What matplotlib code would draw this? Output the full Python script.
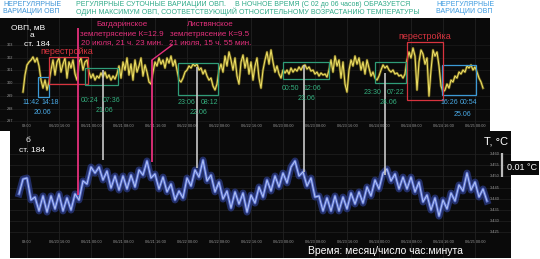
import numpy as np
import matplotlib
matplotlib.use("Agg")
import matplotlib.pyplot as plt
from matplotlib.patches import Rectangle

plt.rcParams['font.family'] = ['Liberation Sans', 'DejaVu Sans']

# time in hours since 06/20 00:00
ovp_start, ovp_step = 7.0, 0.5
ovp_mv = [
    299.30, 300.64, 301.43, 301.66, 301.82, 302.06, 301.66, 301.98, 301.35, 300.24, 299.61, 300.24,
    299.46, 300.09, 301.03, 301.82, 300.64, 301.66, 301.98, 300.87, 301.50, 301.98, 300.40, 301.66,
    301.19, 301.82, 300.72, 300.24, 301.66, 301.98, 301.03, 301.66, 301.82, 300.87, 300.40, 300.72,
    300.24, 300.56, 300.40, 300.80, 300.48, 300.87, 300.40, 300.64, 300.24, 300.56, 300.32, 300.72,
    301.35, 300.40, 301.66, 301.03, 301.98, 300.64, 301.50, 300.24, 301.82, 300.87, 301.35, 301.98,
    300.56, 301.43, 300.87, 300.09, 299.93, 300.87, 301.66, 301.35, 301.98, 301.50, 301.82, 301.19,
    301.98, 301.58, 302.13, 301.35, 301.82, 301.03, 300.24, 300.09, 300.40, 300.87, 301.03, 301.35,
    301.19, 301.50, 301.35, 301.50, 301.03, 301.19, 300.72, 301.03, 300.56, 300.24, 300.40, 299.77,
    299.46, 299.93, 301.03, 301.50, 300.87, 302.13, 301.35, 302.45, 301.82, 301.03, 301.98, 300.56,
    299.93, 301.66, 302.21, 301.19, 301.98, 300.72, 301.66, 300.24, 301.35, 301.98, 300.40, 299.61,
    301.03, 301.82, 302.45, 301.50, 302.61, 301.66, 300.87, 301.35, 300.72, 300.40, 301.03, 300.80,
    301.03, 300.72, 301.19, 300.87, 301.11, 300.95, 301.27, 301.03, 301.35, 301.43, 301.11, 301.27,
    300.95, 301.03, 300.72, 300.87, 300.56, 300.80, 300.64, 300.72, 300.48, 301.03, 301.82, 300.87,
    302.13, 301.35, 301.82, 300.40, 301.66, 299.93, 299.30, 301.03, 301.82, 301.35, 302.13, 301.50,
    301.98, 301.03, 301.66, 300.72, 301.82, 301.19, 300.56, 300.87, 300.40, 300.24, 300.56, 301.03,
    301.43, 301.19, 301.35, 301.03, 300.87, 301.03, 300.72, 300.80, 300.56, 300.64, 300.40, 300.72,
    301.82, 302.45, 301.98, 302.76, 302.13, 299.46, 301.66, 302.61, 302.29, 301.50, 301.98, 298.98,
    301.03, 302.61, 302.13, 302.45, 301.35, 299.77, 299.30, 299.46, 299.93, 299.61, 300.24, 300.09,
    300.56, 300.40, 300.87, 300.72, 301.03, 300.87, 301.35, 301.19, 301.43, 301.03, 301.27, 300.87,
    300.40, 300.09, 299.61,
]

temp_start, temp_step = 6.0, 1.0
temp_c = [
    3.4422, 3.4488, 3.4493, 3.4395, 3.4408, 3.4346, 3.4413, 3.4341, 3.4413, 3.4355, 3.4422, 3.4346,
    3.4404, 3.4350, 3.4422, 3.4395, 3.4480, 3.4466, 3.4542, 3.4515, 3.4542, 3.4484, 3.4524, 3.4448,
    3.4502, 3.4439, 3.4502, 3.4444, 3.4506, 3.4453, 3.4529, 3.4506, 3.4569, 3.4493, 3.4511, 3.4444,
    3.4497, 3.4431, 3.4466, 3.4395, 3.4435, 3.4404, 3.4493, 3.4457, 3.4529, 3.4497, 3.4573, 3.4480,
    3.4506, 3.4431, 3.4475, 3.4399, 3.4435, 3.4359, 3.4431, 3.4377, 3.4426, 3.4341, 3.4417, 3.4381,
    3.4453, 3.4408, 3.4484, 3.4435, 3.4502, 3.4453, 3.4515, 3.4471, 3.4542, 3.4569, 3.4502, 3.4520,
    3.4457, 3.4493, 3.4408, 3.4413, 3.4346, 3.4404, 3.4346, 3.4413, 3.4346, 3.4408, 3.4355, 3.4426,
    3.4377, 3.4431, 3.4381, 3.4453, 3.4413, 3.4484, 3.4444, 3.4515, 3.4533, 3.4480, 3.4511, 3.4444,
    3.4497, 3.4444, 3.4497, 3.4431, 3.4475, 3.4386, 3.4417, 3.4350, 3.4404, 3.4323, 3.4395, 3.4355,
    3.4426, 3.4390, 3.4462, 3.4435, 3.4515, 3.4439, 3.4475, 3.4408, 3.4444, 3.4390,
]

tick_hours = [8, 16, 24, 32, 40, 48, 56, 64, 72, 80, 88, 96, 104, 112, 120]
tick_labels = ["08:00", "06/20 16:00", "06/21 00:00", "06/21 08:00", "06/21 16:00",
               "06/22 00:00", "06/22 08:00", "06/22 16:00", "06/23 00:00", "06/23 08:00",
               "06/23 16:00", "06/24 00:00", "06/24 08:00", "06/24 16:00", "06/25 00:00"]
ovp_ticks = [303, 302, 301, 300, 299, 298, 297]
temp_ticks = [3.460, 3.455, 3.450, 3.445, 3.440, 3.435, 3.430, 3.425]

# earthquakes and night maxima (hours) with how far the marker lines reach
quake_hours = [20.75, 39.25]
quake_top_end = [304.34, 301.82]
quake_bot_end = [3.4417, 3.4564]
max_hours = [27.0, 50.5, 77.25, 97.5]
max_top_end = [301.03, 301.27, 301.43, 300.80]
max_bot_end = [3.4573, 3.4538, 3.4520, 3.4506]

# boxes: (hour from, hour to, mV low, mV high)
blue_boxes = [(10.75, 13.5, 298.91, 300.48), (111.75, 120.25, 299.06, 301.43)]
red_boxes = [(13.5, 23.25, 299.93, 302.06), (103.0, 112.0, 298.67, 303.24)]
green_boxes = [(22.5, 30.75, 299.85, 301.19), (45.75, 55.75, 299.06, 301.58),
               (72.0, 83.5, 300.32, 301.66), (95.0, 102.75, 300.01, 301.66)]

PINK = '#e5307c'
RED = '#d8343f'
GREEN = '#2f9c78'
BLUE = '#3c9ad6'
GREY_LINE = '#c8c8c8'

W, H = 540, 259
fig = plt.figure(figsize=(W / 100, H / 100), dpi=100)
fig.patch.set_facecolor('white')


def fx(x):
    return x / W


def fy(y):
    return 1 - y / H


ax_top = fig.add_axes([0, fy(131), fx(490), 113 / H])
ax_bot = fig.add_axes([fx(10), fy(258), fx(501), 127 / H])

for ax in (ax_top, ax_bot):
    ax.set_facecolor('#0a0a0a')
    for s in ax.spines.values():
        s.set_visible(False)
    ax.set_xticks([])
    ax.set_yticks([])

ax_top.set_xlim(1.25, 123.75)
ax_top.set_ylim(296.23, 305.13)
ax_bot.set_xlim(3.75, 129.0)
ax_bot.set_ylim(3.41362, 3.47026)

# faint grid
for h in tick_hours:
    ax_top.axvline(h, color='#262626', lw=0.5, zorder=0)
    ax_bot.axvline(h, color='#262626', lw=0.5, zorder=0)
for v in ovp_ticks:
    ax_top.axhline(v, color='#1c1c1c', lw=0.5, zorder=0)
for t in temp_ticks:
    ax_bot.axhline(t, color='#222222', lw=0.5, zorder=0)

# tick labels drawn inside the black panels
for h, lab in zip(tick_hours, tick_labels):
    ax_top.text(h, 0.044, lab, transform=ax_top.get_xaxis_transform(), color='#9a9a9a',
                fontsize=2.8, ha='center', va='center')
    ax_bot.text(h, 0.126, lab, transform=ax_bot.get_xaxis_transform(), color='#9a9a9a',
                fontsize=2.8, ha='center', va='center')
for v in ovp_ticks:
    ax_top.text(0.02, v, str(v), transform=ax_top.get_yaxis_transform(), color='#9a9a9a',
                fontsize=2.8, ha='center', va='center')
for t in temp_ticks:
    ax_bot.text(0.968, t, f"{t:.3f}", transform=ax_bot.get_yaxis_transform(), color='#9a9a9a',
                fontsize=2.8, ha='center', va='center')

# data
ovp_h = ovp_start + ovp_step * np.arange(len(ovp_mv))
temp_h = temp_start + temp_step * np.arange(len(temp_c))
ax_top.plot(ovp_h, ovp_mv, color='#8c7c22', lw=1.8, alpha=0.8, zorder=3)
ax_top.plot(ovp_h, ovp_mv, color='#f2e468', lw=0.7, zorder=4)
ax_bot.plot(temp_h, temp_c, color='#2c3d8c', lw=5.0, alpha=0.7, zorder=3)
ax_bot.plot(temp_h, temp_c, color='#5d73d6', lw=2.0, alpha=0.9, zorder=3)
ax_bot.plot(temp_h, temp_c, color='#b4c6f7', lw=0.7, zorder=4)

# boxes
for boxes, col in ((blue_boxes, BLUE), (red_boxes, RED), (green_boxes, GREEN)):
    for h0, h1, v0, v1 in boxes:
        ax_top.add_patch(Rectangle((h0, v0), h1 - h0, v1 - v0, fill=False,
                                   edgecolor=col, lw=0.9, zorder=5))

# event lines
for h, te, be in zip(quake_hours, quake_top_end, quake_bot_end):
    ax_top.vlines(h, 296.23, te, color=PINK, lw=1.3, zorder=6)
    ax_bot.vlines(h, be, 3.47026, color=PINK, lw=1.3, zorder=6)
ax_top.plot([quake_hours[1], 44.25], [quake_top_end[1], 303.0], color=PINK, lw=1.0, zorder=6)
for h, te, be in zip(max_hours, max_top_end, max_bot_end):
    ax_top.vlines(h, 296.23, te, color=GREY_LINE, lw=1.2, zorder=6)
    ax_bot.vlines(h, be, 3.47026, color=GREY_LINE, lw=1.2, zorder=6)

# 0.01 C scale bar
ax_bot.vlines(126.75, 3.4497, 3.4604, color='#bdbdbd', lw=1.6, zorder=6)

# header
fig.text(fx(3), fy(4.5), "НЕРЕГУЛЯРНЫЕ", color='#3a92d6', fontsize=5, va='center')
fig.text(fx(3), fy(11.5), "ВАРИАЦИИ ОВП", color='#3a92d6', fontsize=5, va='center')
fig.text(fx(76), fy(4.5), "РЕГУЛЯРНЫЕ СУТОЧНЫЕ ВАРИАЦИИ ОВП.", color='#2faa88', fontsize=5, va='center')
fig.text(fx(235), fy(4.5), "В НОЧНОЕ ВРЕМЯ (С 02 до 06 часов) ОБРАЗУЕТСЯ", color='#2faa88', fontsize=5, va='center')
fig.text(fx(76), fy(11.5), "ОДИН МАКСИМУМ ОВП, СООТВЕТСТВУЮЩИЙ ОТНОСИТЕЛЬНОМУ ВОЗРАСТАНИЮ ТЕМПЕРАТУРЫ",
         color='#2faa88', fontsize=5, va='center')
fig.text(fx(436), fy(4.5), "НЕРЕГУЛЯРНЫЕ", color='#3a9ae0', fontsize=5, va='center')
fig.text(fx(436), fy(11.5), "ВАРИАЦИИ ОВП", color='#3a9ae0', fontsize=5, va='center')

# panel labels
fig.text(fx(28), fy(28), "ОВП, мВ", color='white', fontsize=6, ha='center', va='center')
fig.text(fx(32), fy(36), "а", color='white', fontsize=6, ha='center', va='center')
fig.text(fx(37), fy(45), "ст. 184", color='white', fontsize=6, ha='center', va='center')
fig.text(fx(28), fy(141), "б", color='white', fontsize=6, ha='center', va='center')
fig.text(fx(32), fy(150), "ст. 184", color='white', fontsize=6, ha='center', va='center')

# earthquake notes
for i, line in enumerate(["Багдаринское", "землетрясение К=12.9", "20 июля, 21 ч. 23 мин."]):
    fig.text(fx(122), fy(25 + 9 * i), line, color=PINK, fontsize=5.8, ha='center', va='center')
for i, line in enumerate(["Листвянское", "землетрясение К=9.5", "21 июля, 15 ч. 55 мин."]):
    fig.text(fx(210), fy(25 + 9 * i), line, color=PINK, fontsize=5.8, ha='center', va='center')
fig.text(fx(67), fy(52), "перестройка", color=RED, fontsize=6.5, ha='center', va='center')
fig.text(fx(425), fy(37), "перестройка", color=RED, fontsize=6.5, ha='center', va='center')

# time marks under boxes
marks = [
    ("11:42", 31, 103, BLUE), ("14:18", 50, 103, BLUE), ("20.06", 42, 112, BLUE),
    ("00:24", 90, 101, GREEN), ("07:36", 112, 101, GREEN), ("21.06", 104, 111, GREEN),
    ("23:06", 186, 102, GREEN), ("08:12", 210, 102, GREEN), ("22.06", 198, 112, GREEN),
    ("00:50", 291, 88, GREEN), ("12:06", 312, 88, GREEN), ("23.06", 306, 99, GREEN),
    ("23:30", 373, 93, GREEN), ("07:22", 396, 93, GREEN), ("24.06", 388, 103, GREEN),
    ("16:26", 449, 103, BLUE), ("00:54", 469, 103, BLUE), ("25.06", 462, 114, BLUE),
]
for s, x, y, c in marks:
    col = '#4aaae6' if c == BLUE else '#34b07f'
    fig.text(fx(x), fy(y), s, color=col, fontsize=5, ha='center', va='center')

# right side labels
fig.text(fx(496), fy(141), "T, °C", color='white', fontsize=8, ha='center', va='center',
         bbox=dict(facecolor='#0a0a0a', edgecolor='none', pad=1.5))
fig.text(fx(522), fy(168), "0.01 °C", color='white', fontsize=6.5, ha='center', va='center',
         bbox=dict(facecolor='#0a0a0a', edgecolor='none', pad=1.5))
fig.text(fx(308), fy(251), "Время: месяц/число час:минута", color='white', fontsize=7.5,
         ha='left', va='center')

fig.savefig("out.png", dpi=100, facecolor='white')
